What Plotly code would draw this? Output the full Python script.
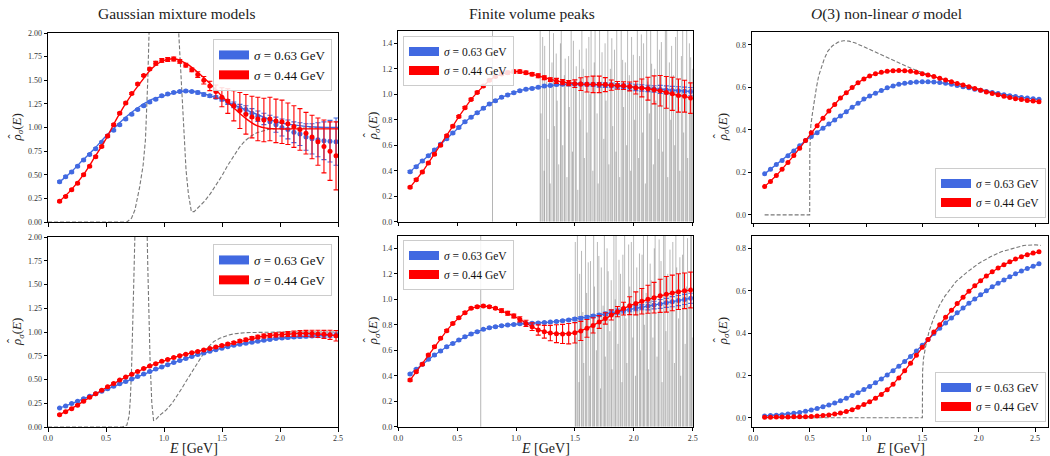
import plotly.graph_objects as go

# energy grid of the reconstructed points (GeV)
ENERGY = [
    0.100, 0.152, 0.204, 0.255, 0.307, 0.359, 0.411, 0.463,
    0.514, 0.566, 0.618, 0.670, 0.722, 0.773, 0.825, 0.877,
    0.929, 0.981, 1.032, 1.084, 1.136, 1.188, 1.240, 1.291,
    1.343, 1.395, 1.447, 1.499, 1.550, 1.602, 1.654, 1.706,
    1.758, 1.809, 1.861, 1.913, 1.965, 2.017, 2.068, 2.120,
    2.172, 2.224, 2.276, 2.327, 2.379, 2.431, 2.483, 2.535,
]
SIGMA_LABELS = ["<i>σ</i> = 0.63 GeV", "<i>σ</i> = 0.44 GeV"]

# --- Gaussian mixture models, top ---
GMM1_BLUE = [
    0.425, 0.48, 0.53, 0.59, 0.655, 0.715, 0.775, 0.845,
    0.91, 0.97, 1.03, 1.09, 1.14, 1.19, 1.23, 1.27,
    1.30, 1.335, 1.355, 1.37, 1.38, 1.385, 1.38, 1.37,
    1.35, 1.335, 1.32, 1.30, 1.27, 1.24, 1.21, 1.19,
    1.15, 1.12, 1.09, 1.06, 1.03, 1.00, 0.98, 0.95,
    0.93, 0.90, 0.88, 0.87, 0.86, 0.855, 0.85, 0.845,
]
GMM1_BLUE_ERR = [
    0.01, 0.01, 0.01, 0.01, 0.01, 0.01, 0.01, 0.01,
    0.01, 0.01, 0.01, 0.01, 0.01, 0.01, 0.01, 0.01,
    0.01, 0.01, 0.01, 0.01, 0.01, 0.01, 0.01, 0.015,
    0.015, 0.015, 0.015, 0.02, 0.025, 0.03, 0.035, 0.04,
    0.05, 0.055, 0.06, 0.07, 0.08, 0.09, 0.10, 0.11,
    0.12, 0.14, 0.16, 0.18, 0.20, 0.22, 0.25, 0.27,
]
GMM1_RED = [
    0.22, 0.27, 0.34, 0.41, 0.50, 0.59, 0.69, 0.80,
    0.91, 1.03, 1.15, 1.26, 1.36, 1.46, 1.55, 1.62,
    1.68, 1.71, 1.72, 1.725, 1.70, 1.66, 1.61, 1.56,
    1.50, 1.44, 1.38, 1.32, 1.28, 1.23, 1.18, 1.14,
    1.11, 1.09, 1.08, 1.09, 1.07, 1.06, 1.04, 1.01,
    0.98, 0.94, 0.90, 0.85, 0.80, 0.75, 0.70, 0.66,
]
GMM1_RED_ERR = [
    0.01, 0.01, 0.01, 0.01, 0.01, 0.01, 0.01, 0.01,
    0.01, 0.01, 0.01, 0.01, 0.01, 0.01, 0.01, 0.01,
    0.02, 0.02, 0.02, 0.02, 0.02, 0.02, 0.02, 0.03,
    0.04, 0.05, 0.07, 0.10, 0.13, 0.16, 0.19, 0.21,
    0.22, 0.23, 0.23, 0.23, 0.23, 0.23, 0.22, 0.22,
    0.22, 0.22, 0.23, 0.25, 0.28, 0.31, 0.36, 0.40,
]
# smeared exact curves, 0.1 GeV spacing
LINE_ENERGY = [0.1, 0.2, 0.3, 0.4, 0.5, 0.6, 0.7, 0.8, 0.9, 1.0, 1.1, 1.2, 1.3,
               1.4, 1.5, 1.6, 1.7, 1.8, 1.9, 2.0, 2.1, 2.2, 2.3, 2.4, 2.5]
GMM1_BLUE_LINE = [0.425, 0.53, 0.655, 0.775, 0.91, 1.03, 1.14, 1.23, 1.30, 1.335, 1.37, 1.385, 1.37,
                  1.335, 1.30, 1.24, 1.19, 1.14, 1.09, 1.05, 1.03, 1.015, 1.005, 1.0, 1.0]
GMM1_RED_LINE = [0.22, 0.34, 0.49, 0.68, 0.88, 1.11, 1.31, 1.48, 1.63, 1.71, 1.725, 1.67, 1.575,
                 1.46, 1.33, 1.21, 1.10, 1.02, 0.99, 0.985, 0.985, 0.985, 0.985, 0.985, 0.985]
GMM1_EXACT_E = [0.00, 0.68, 0.72, 0.75, 0.79, 0.82, 0.84, 0.86, 0.88, 0.90,
                0.95, 1.00, 1.05, 1.10, 1.127, 1.16, 1.19, 1.21, 1.236, 1.26,
                1.30, 1.35, 1.40, 1.45, 1.50, 1.55, 1.60, 1.65, 1.70, 1.75,
                1.80, 1.85, 1.90, 2.00, 2.50]
GMM1_EXACT = [0.0, 0.0, 0.04, 0.13, 0.37, 0.6, 0.87, 1.5, 2.4, 3.1,
              4.6, 5.7, 4.6, 3.1, 2.0, 1.3, 0.55, 0.3, 0.11, 0.11,
              0.16, 0.22, 0.30, 0.39, 0.49, 0.60, 0.70, 0.79, 0.86, 0.91,
              0.945, 0.965, 0.98, 0.99, 1.0]

# --- Gaussian mixture models, bottom ---
GMM2_BLUE = [
    0.20, 0.221, 0.247, 0.272, 0.298, 0.324, 0.35, 0.376,
    0.402, 0.428, 0.454, 0.48, 0.506, 0.531, 0.557, 0.584,
    0.61, 0.632, 0.656, 0.678, 0.70, 0.72, 0.741, 0.762,
    0.778, 0.798, 0.814, 0.83, 0.845, 0.86, 0.871, 0.881,
    0.892, 0.902, 0.912, 0.922, 0.931, 0.937, 0.942, 0.947,
    0.952, 0.956, 0.959, 0.961, 0.963, 0.965, 0.967, 0.968,
]
GMM2_BLUE_ERR = [
    0.006, 0.006, 0.006, 0.006, 0.006, 0.006, 0.006, 0.006,
    0.006, 0.006, 0.006, 0.006, 0.006, 0.006, 0.006, 0.006,
    0.006, 0.006, 0.006, 0.006, 0.006, 0.006, 0.006, 0.006,
    0.006, 0.006, 0.006, 0.006, 0.006, 0.006, 0.006, 0.006,
    0.006, 0.007, 0.008, 0.009, 0.01, 0.011, 0.012, 0.013,
    0.014, 0.015, 0.016, 0.017, 0.018, 0.02, 0.022, 0.024,
]
GMM2_RED = [
    0.13, 0.161, 0.193, 0.23, 0.272, 0.313, 0.35, 0.387,
    0.423, 0.459, 0.494, 0.525, 0.555, 0.585, 0.615, 0.641,
    0.667, 0.691, 0.711, 0.731, 0.751, 0.766, 0.781, 0.796,
    0.811, 0.826, 0.842, 0.857, 0.873, 0.888, 0.904, 0.919,
    0.935, 0.948, 0.958, 0.964, 0.969, 0.974, 0.978, 0.982,
    0.985, 0.985, 0.984, 0.98, 0.975, 0.97, 0.96, 0.95,
]
GMM2_RED_ERR = [
    0.006, 0.006, 0.006, 0.006, 0.006, 0.006, 0.006, 0.006,
    0.006, 0.006, 0.006, 0.006, 0.006, 0.006, 0.006, 0.006,
    0.006, 0.006, 0.006, 0.006, 0.006, 0.006, 0.006, 0.006,
    0.006, 0.006, 0.008, 0.01, 0.01, 0.012, 0.014, 0.015,
    0.016, 0.018, 0.02, 0.02, 0.022, 0.024, 0.026, 0.028,
    0.03, 0.032, 0.035, 0.038, 0.042, 0.048, 0.055, 0.065,
]
GMM2_EXACT_E = [0.00, 0.64, 0.68, 0.70, 0.71, 0.72, 0.735, 0.75, 0.77, 0.80,
                0.83, 0.845, 0.86, 0.88, 0.895, 0.91, 0.93, 0.97, 1.02, 1.07,
                1.11, 1.15, 1.20, 1.25, 1.30, 1.37, 1.43, 1.48, 1.55, 1.60,
                1.70, 2.00, 2.50]
GMM2_EXACT = [0.0, 0.0, 0.02, 0.12, 0.3, 0.6, 1.3, 2.2, 3.6, 4.6,
              3.6, 2.6, 1.7, 0.7, 0.25, 0.07, 0.08, 0.13, 0.18, 0.25,
              0.32, 0.40, 0.50, 0.60, 0.70, 0.83, 0.90, 0.934, 0.965, 0.98,
              0.993, 1.0, 1.0]

# --- Finite volume peaks, top ---
FV1_BLUE = [
    0.393, 0.432, 0.476, 0.518, 0.563, 0.607, 0.652, 0.697,
    0.74, 0.785, 0.82, 0.856, 0.89, 0.924, 0.95, 0.976,
    0.995, 1.013, 1.028, 1.04, 1.046, 1.055, 1.065, 1.07,
    1.076, 1.078, 1.08, 1.08, 1.08, 1.078, 1.076, 1.074,
    1.072, 1.07, 1.066, 1.062, 1.058, 1.054, 1.05, 1.046,
    1.042, 1.038, 1.034, 1.03, 1.027, 1.024, 1.021, 1.018,
]
FV1_BLUE_ERR = [
    0.008, 0.008, 0.008, 0.008, 0.008, 0.008, 0.008, 0.008,
    0.008, 0.008, 0.008, 0.008, 0.008, 0.008, 0.008, 0.008,
    0.008, 0.008, 0.008, 0.008, 0.008, 0.008, 0.008, 0.008,
    0.008, 0.008, 0.012, 0.012, 0.012, 0.012, 0.012, 0.018,
    0.018, 0.018, 0.018, 0.018, 0.025, 0.025, 0.025, 0.025,
    0.025, 0.032, 0.032, 0.032, 0.032, 0.032, 0.032, 0.032,
]
FV1_RED = [
    0.27, 0.33, 0.39, 0.46, 0.53, 0.60, 0.675, 0.75,
    0.825, 0.895, 0.96, 1.015, 1.065, 1.11, 1.14, 1.16,
    1.17, 1.178, 1.178, 1.17, 1.158, 1.145, 1.13, 1.115,
    1.105, 1.095, 1.088, 1.083, 1.08, 1.078, 1.078, 1.078,
    1.076, 1.072, 1.07, 1.068, 1.062, 1.052, 1.05, 1.044,
    1.035, 1.028, 1.015, 1.004, 0.99, 0.985, 0.97, 0.965,
]
FV1_RED_ERR = [
    0.008, 0.008, 0.008, 0.008, 0.008, 0.008, 0.008, 0.008,
    0.008, 0.008, 0.008, 0.008, 0.008, 0.008, 0.008, 0.012,
    0.012, 0.012, 0.012, 0.012, 0.012, 0.015, 0.015, 0.015,
    0.02, 0.02, 0.02, 0.03, 0.05, 0.06, 0.065, 0.065,
    0.055, 0.04, 0.03, 0.03, 0.035, 0.05, 0.07, 0.09,
    0.11, 0.12, 0.125, 0.13, 0.13, 0.125, 0.12, 0.12,
]
FV1_PEAK_E = [
    1.205, 1.212, 1.226, 1.238, 1.243, 1.259, 1.271, 1.284, 1.290, 1.305,
    1.318, 1.326, 1.341, 1.349, 1.362, 1.377, 1.384, 1.396, 1.410, 1.417,
    1.432, 1.446, 1.452, 1.468, 1.479, 1.487, 1.503, 1.511, 1.524, 1.538,
    1.546, 1.559, 1.571, 1.580, 1.596, 1.603, 1.618, 1.629, 1.637, 1.652,
    1.664, 1.671, 1.688, 1.697, 1.709, 1.722, 1.730, 1.745, 1.756, 1.764,
    1.779, 1.788, 1.801, 1.813, 1.821, 1.836, 1.848, 1.855, 1.871, 1.880,
    1.893, 1.905, 1.913, 1.928, 1.939, 1.947, 1.962, 1.973, 1.981, 1.996,
    2.007, 2.016, 2.030, 2.041, 2.049, 2.064, 2.075, 2.083, 2.098, 2.109,
    2.118, 2.132, 2.143, 2.151, 2.166, 2.177, 2.186, 2.200, 2.211, 2.219,
    2.234, 2.245, 2.253, 2.268, 2.279, 2.288, 2.302, 2.313, 2.321, 2.336,
    2.347, 2.355, 2.370, 2.381, 2.390, 2.404, 2.415, 2.423, 2.438, 2.449,
    2.457, 2.472, 2.483, 2.492, 2.498,
]
FV1_PEAK_H = [
    1.60, 0.85, 1.45, 0.40, 1.38, 1.10, 0.65, 1.60, 0.30, 1.25,
    1.48, 0.75, 1.32, 0.95, 0.45, 1.40, 1.60, 0.60, 1.15, 1.28,
    0.35, 1.30, 0.90, 1.60, 0.55, 1.42, 1.05, 1.22, 0.25, 1.35,
    0.80, 1.60, 1.20, 0.50, 1.36, 0.70, 1.45, 1.00, 1.60, 0.40,
    1.25, 1.52, 0.85, 0.30, 1.55, 1.10, 1.33, 0.65, 1.40, 0.95,
    1.60, 0.45, 1.20, 1.44, 0.75, 1.35, 0.55, 1.60, 1.05, 0.35,
    1.50, 1.27, 0.90, 1.25, 0.60, 1.60, 1.15, 0.40, 1.45, 1.31,
    0.80, 1.00, 1.60, 0.50, 1.30, 1.47, 0.70, 1.40, 0.30, 1.60,
    1.10, 0.85, 1.55, 1.24, 0.45, 1.20, 0.95, 1.60, 0.65, 1.35,
    1.41, 0.55, 1.05, 1.50, 1.60, 0.35, 1.25, 0.80, 1.38, 1.15,
    0.60, 1.45, 1.60, 0.90, 0.40, 1.30, 1.52, 0.70, 1.00, 1.60,
    0.50, 1.40, 1.29, 0.85, 1.20,
]

# --- Finite volume peaks, bottom ---
FV2_BLUE = [
    0.413, 0.45, 0.49, 0.529, 0.563, 0.594, 0.628, 0.654,
    0.68, 0.707, 0.728, 0.746, 0.764, 0.777, 0.785, 0.793,
    0.798, 0.803, 0.808, 0.81, 0.812, 0.814, 0.817, 0.821,
    0.826, 0.832, 0.838, 0.845, 0.852, 0.86, 0.868, 0.877,
    0.886, 0.895, 0.904, 0.913, 0.922, 0.93, 0.938, 0.947,
    0.955, 0.964, 0.972, 0.981, 0.99, 0.999, 1.008, 1.016,
]
FV2_BLUE_ERR = [
    0.007, 0.007, 0.007, 0.007, 0.007, 0.007, 0.007, 0.007,
    0.007, 0.007, 0.007, 0.007, 0.007, 0.007, 0.007, 0.007,
    0.007, 0.007, 0.007, 0.007, 0.007, 0.007, 0.007, 0.007,
    0.007, 0.007, 0.007, 0.012, 0.012, 0.012, 0.012, 0.012,
    0.012, 0.02, 0.02, 0.02, 0.02, 0.02, 0.02, 0.03,
    0.03, 0.035, 0.035, 0.04, 0.04, 0.04, 0.04, 0.04,
]
FV2_RED = [
    0.366, 0.432, 0.49, 0.563, 0.628, 0.694, 0.754, 0.811,
    0.856, 0.895, 0.929, 0.942, 0.947, 0.942, 0.929, 0.911,
    0.89, 0.869, 0.843, 0.811, 0.785, 0.759, 0.745, 0.735,
    0.73, 0.728, 0.73, 0.737, 0.752, 0.772, 0.795, 0.822,
    0.85, 0.877, 0.903, 0.927, 0.95, 0.968, 0.985, 1.0,
    1.013, 1.027, 1.039, 1.05, 1.06, 1.067, 1.073, 1.078,
]
FV2_RED_ERR = [
    0.008, 0.008, 0.008, 0.008, 0.008, 0.008, 0.008, 0.008,
    0.008, 0.008, 0.008, 0.008, 0.008, 0.008, 0.008, 0.015,
    0.015, 0.015, 0.02, 0.025, 0.03, 0.04, 0.05, 0.06,
    0.07, 0.075, 0.08, 0.08, 0.075, 0.07, 0.06, 0.05,
    0.045, 0.04, 0.04, 0.05, 0.07, 0.09, 0.10, 0.11,
    0.12, 0.13, 0.14, 0.14, 0.14, 0.14, 0.14, 0.14,
]
FV2_PEAK_E = [
    1.503, 1.509, 1.521, 1.534, 1.540, 1.556, 1.567, 1.575, 1.590, 1.599,
    1.613, 1.625, 1.632, 1.648, 1.659, 1.666, 1.682, 1.691, 1.703, 1.717,
    1.724, 1.739, 1.750, 1.758, 1.773, 1.782, 1.796, 1.808, 1.815, 1.831,
    1.842, 1.849, 1.865, 1.874, 1.887, 1.899, 1.907, 1.922, 1.933, 1.941,
    1.956, 1.965, 1.979, 1.991, 1.998, 2.014, 2.025, 2.032, 2.048, 2.057,
    2.070, 2.082, 2.090, 2.105, 2.116, 2.124, 2.139, 2.148, 2.162, 2.174,
    2.181, 2.197, 2.208, 2.215, 2.231, 2.240, 2.253, 2.265, 2.273, 2.288,
    2.299, 2.307, 2.322, 2.331, 2.345, 2.357, 2.364, 2.380, 2.391, 2.398,
    2.414, 2.423, 2.436, 2.448, 2.456, 2.471, 2.482, 2.490, 2.497,
]
FV2_PEAK_H = [
    1.45, 0.70, 1.60, 0.35, 1.20, 1.38, 0.90, 0.50, 1.55, 1.05,
    1.29, 0.40, 1.30, 0.80, 1.60, 1.10, 0.60, 1.45, 1.34, 0.30,
    1.25, 0.95, 1.60, 0.55, 1.40, 1.22, 0.75, 1.15, 0.45, 1.60,
    1.00, 1.50, 0.65, 1.31, 1.20, 0.35, 1.35, 1.60, 0.85, 0.50,
    1.43, 1.10, 1.45, 0.70, 1.60, 0.40, 1.25, 0.95, 1.36, 0.60,
    1.35, 1.60, 0.80, 1.05, 1.55, 0.45, 1.28, 1.15, 0.70, 1.40,
    1.60, 0.55, 0.90, 1.47, 1.30, 0.35, 1.50, 1.60, 0.75, 1.20,
    0.60, 1.39, 1.00, 1.45, 0.50, 1.60, 1.25, 0.85, 1.33, 0.40,
    1.35, 1.60, 0.65, 1.10, 1.48, 0.95, 1.50, 1.60, 0.70,
]
FV_GROUND_STATE = [0.8, 0.7]  # thin grey marker line, top / bottom

# --- O(3) non-linear sigma model ---
O3A_BLUE = [
    0.193, 0.215, 0.237, 0.256, 0.278, 0.301, 0.325, 0.35,
    0.369, 0.387, 0.408, 0.428, 0.447, 0.466, 0.486, 0.507,
    0.525, 0.546, 0.56, 0.573, 0.585, 0.598, 0.607, 0.615,
    0.62, 0.623, 0.626, 0.627, 0.627, 0.626, 0.623, 0.62,
    0.615, 0.609, 0.603, 0.598, 0.592, 0.587, 0.581, 0.576,
    0.571, 0.566, 0.561, 0.557, 0.553, 0.55, 0.547, 0.544,
]
O3A_RED = [
    0.133, 0.157, 0.185, 0.215, 0.246, 0.279, 0.314, 0.35,
    0.387, 0.419, 0.455, 0.489, 0.52, 0.55, 0.575, 0.60,
    0.622, 0.64, 0.654, 0.664, 0.671, 0.676, 0.679, 0.68,
    0.679, 0.676, 0.671, 0.665, 0.658, 0.651, 0.643, 0.635,
    0.627, 0.619, 0.611, 0.603, 0.595, 0.587, 0.579, 0.572,
    0.565, 0.558, 0.552, 0.547, 0.543, 0.539, 0.536, 0.533,
]
O3A_EXACT_E = [0.10, 0.50, 0.501, 0.51, 0.525, 0.54, 0.56, 0.58, 0.60, 0.63,
               0.66, 0.70, 0.75, 0.80, 0.85, 0.90, 1.00, 1.10, 1.20, 1.30,
               1.40, 1.50, 1.60, 1.80, 2.00, 2.20, 2.40, 2.55]
O3A_EXACT = [0.0, 0.0, 0.30, 0.42, 0.48, 0.54, 0.60, 0.655, 0.69, 0.735,
             0.77, 0.795, 0.813, 0.82, 0.818, 0.81, 0.787, 0.763, 0.738, 0.713,
             0.69, 0.67, 0.652, 0.62, 0.593, 0.57, 0.552, 0.54]
O3B_BLUE = [
    0.008, 0.010, 0.012, 0.014, 0.017, 0.021, 0.025, 0.030,
    0.036, 0.043, 0.052, 0.060, 0.069, 0.080, 0.092, 0.105,
    0.118, 0.133, 0.148, 0.165, 0.183, 0.202, 0.222, 0.243,
    0.266, 0.290, 0.316, 0.343, 0.370, 0.398, 0.423, 0.448,
    0.472, 0.496, 0.519, 0.541, 0.562, 0.582, 0.601, 0.619,
    0.636, 0.652, 0.667, 0.681, 0.694, 0.706, 0.717, 0.728,
]
O3B_RED = [
    0.002, 0.002, 0.003, 0.003, 0.003, 0.004, 0.004, 0.005,
    0.006, 0.008, 0.010, 0.013, 0.017, 0.022, 0.029, 0.038,
    0.049, 0.062, 0.076, 0.092, 0.110, 0.132, 0.158, 0.188,
    0.222, 0.258, 0.295, 0.333, 0.370, 0.405, 0.440, 0.475,
    0.508, 0.540, 0.570, 0.598, 0.624, 0.648, 0.670, 0.690,
    0.708, 0.724, 0.738, 0.751, 0.762, 0.771, 0.779, 0.785,
]
O3B_EXACT_E = [0.10, 1.50, 1.502, 1.51, 1.53, 1.56, 1.60, 1.65, 1.70,
               1.80, 1.90, 2.00, 2.10, 2.20, 2.30, 2.40, 2.50, 2.55]
O3B_EXACT = [0.0, 0.0, 0.22, 0.28, 0.34, 0.41, 0.47, 0.53, 0.575,
             0.645, 0.69, 0.73, 0.76, 0.785, 0.80, 0.815, 0.818, 0.815]

W, H = 1050, 456
SERIF = "Liberation Serif"
BLUE = "royalblue"
RED = "red"
COLORS = [BLUE, RED]
GREY = "rgba(105,105,105,0.9)"

# panel boxes in pixels: left, right, top, bottom  (row-major, 1..6)
BOXES = [
    (48, 338, 33, 222), (398.3, 692.7, 30.6, 221.7), (752, 1048, 32, 222.5),
    (48, 338, 237, 427), (398.3, 692.7, 235.6, 426.7), (752, 1048, 235.5, 427),
]
YRANGES = [[0, 2.0], [0, 1.5], [-0.036, 0.861], [0, 2.0], [0, 1.5], [-0.044, 0.862]]
YTICKS = [(0.25, ".2f"), (0.2, ".1f"), (0.2, ".1f")] * 2
XRANGES = [[0, 2.5], [0, 2.5], [-0.012, 2.615]] * 2

fig = go.Figure()


def ax(i):
    s = "" if i == 1 else str(i)
    return "x" + s, "y" + s


def add_exact(i, e, rho):
    xa, ya = ax(i)
    fig.add_trace(go.Scatter(x=e, y=rho, mode="lines", xaxis=xa, yaxis=ya, showlegend=False,
                             line=dict(color=GREY, width=1.1, dash="4px,2px"), hoverinfo="skip"))


def add_peaks(i, pos, heights):
    xa, ya = ax(i)
    xs, ys = [], []
    for p, h in zip(pos, heights):
        xs += [p, p, None]
        ys += [0, h, None]
    fig.add_trace(go.Scatter(x=xs, y=ys, mode="lines", xaxis=xa, yaxis=ya, showlegend=False,
                             line=dict(color="rgba(90,90,90,0.42)", width=1), hoverinfo="skip"))


def add_points(i, y, err, color, line=True):
    xa, ya = ax(i)
    kw = {}
    if err is not None:
        kw["error_y"] = dict(type="data", array=err, color=color, thickness=1.1, width=2.5)
    fig.add_trace(go.Scatter(x=ENERGY, y=y, mode="lines+markers" if line else "markers",
                             xaxis=xa, yaxis=ya, showlegend=False,
                             marker=dict(size=5, color=color), line=dict(color=color, width=1.3), **kw))


def add_line(i, e, y, color):
    xa, ya = ax(i)
    fig.add_trace(go.Scatter(x=e, y=y, mode="lines", xaxis=xa, yaxis=ya, showlegend=False,
                             line=dict(color=color, width=1.4, shape="spline")))


def add_legend(i):
    xa, ya = ax(i)
    for name, color in zip(SIGMA_LABELS, COLORS):
        fig.add_trace(go.Scatter(x=[None], y=[None], mode="lines", name=name, xaxis=xa, yaxis=ya,
                                 line=dict(color=color, width=9),
                                 legend="legend" if i == 1 else f"legend{i}"))


# Gaussian mixture models
add_exact(1, GMM1_EXACT_E, GMM1_EXACT)
add_line(1, LINE_ENERGY, GMM1_BLUE_LINE, BLUE)
add_points(1, GMM1_BLUE, GMM1_BLUE_ERR, BLUE, line=False)
add_line(1, LINE_ENERGY, GMM1_RED_LINE, RED)
add_points(1, GMM1_RED, GMM1_RED_ERR, RED, line=False)
add_exact(4, GMM2_EXACT_E, GMM2_EXACT)
add_points(4, GMM2_BLUE, GMM2_BLUE_ERR, BLUE)
add_points(4, GMM2_RED, GMM2_RED_ERR, RED)

# finite volume peaks
add_peaks(2, FV1_PEAK_E, FV1_PEAK_H)
add_points(2, FV1_BLUE, FV1_BLUE_ERR, BLUE)
add_points(2, FV1_RED, FV1_RED_ERR, RED)
add_peaks(5, FV2_PEAK_E, FV2_PEAK_H)
add_points(5, FV2_BLUE, FV2_BLUE_ERR, BLUE)
add_points(5, FV2_RED, FV2_RED_ERR, RED)

# O(3) model
add_exact(3, O3A_EXACT_E, O3A_EXACT)
add_points(3, O3A_BLUE, None, BLUE)
add_points(3, O3A_RED, None, RED)
add_exact(6, O3B_EXACT_E, O3B_EXACT)
add_points(6, O3B_BLUE, None, BLUE)
add_points(6, O3B_RED, None, RED)

for i in range(1, 7):
    add_legend(i)

for i, e0 in zip([2, 5], FV_GROUND_STATE):
    xa, ya = ax(i)
    fig.add_shape(type="line", xref=xa, yref=ya + " domain", x0=e0, x1=e0, y0=0, y1=1,
                  line=dict(color="rgba(150,150,150,0.7)", width=1), layer="below")

layout = dict(width=W, height=H, margin=dict(l=0, r=0, t=0, b=0, autoexpand=False),
              paper_bgcolor="white", plot_bgcolor="white",
              font=dict(family=SERIF, color="black"))
base_axis = dict(showline=True, linecolor="black", linewidth=1, mirror=True, ticks="outside",
                 ticklen=3.5, tickwidth=0.8, tickcolor="black", showgrid=False, zeroline=False,
                 automargin=False, tickfont=dict(family=SERIF, size=8, color="#333"))
for i, (l, r, t, b) in enumerate(BOXES, start=1):
    s = "" if i == 1 else str(i)
    dt, fmt = YTICKS[i - 1]
    layout["xaxis" + s] = dict(base_axis, domain=[l / W, r / W], anchor="y" + s,
                               range=XRANGES[i - 1], dtick=0.5, tick0=0, tickformat=".1f",
                               showticklabels=i > 3)
    layout["yaxis" + s] = dict(base_axis, domain=[1 - b / H, 1 - t / H], anchor="x" + s,
                               range=YRANGES[i - 1], dtick=dt, tick0=0, tickformat=fmt)

# legend anchor points (pixels) per panel
LEGEND_POS = [
    (332, 39, "right", "top", 13), (403, 36, "left", "top", 11.5), (1046, 218, "right", "bottom", 11.5),
    (332, 244, "right", "top", 13), (403, 240, "left", "top", 11.5), (1046, 422, "right", "bottom", 11.5),
]
for i, (lx, ly, xa, ya, fs) in enumerate(LEGEND_POS, start=1):
    layout["legend" if i == 1 else f"legend{i}"] = dict(
        x=lx / W, y=1 - ly / H, xanchor=xa, yanchor=ya, bgcolor="rgba(255,255,255,0.85)",
        bordercolor="#cccccc", borderwidth=1, font=dict(family=SERIF, size=fs, color="#111"),
        tracegroupgap=0, itemwidth=30)

annotations = []
TITLES = [("Gaussian mixture models", 177), ("Finite volume peaks", 531.7),
          ("<i>O</i>(3) non-linear <i>σ</i> model", 886.7)]
for text, cx in TITLES:
    annotations.append(dict(text=text, x=cx / W, y=1 - 14 / H, xref="paper", yref="paper",
                            showarrow=False, font=dict(size=15.5, family=SERIF, color="#222"),
                            xanchor="center", yanchor="middle"))
for i, (l, r, t, b) in enumerate(BOXES, start=1):
    ylab_x = {1: 17, 2: 373, 3: 723}[(i - 1) % 3 + 1]
    yc = (t + b) / 2
    annotations.append(dict(text="<i>ρ</i><sub><i>σ</i></sub>(<i>E</i>)", x=ylab_x / W,
                            y=1 - yc / H, xref="paper", yref="paper", textangle=-90,
                            showarrow=False, font=dict(size=13, family=SERIF, color="#222"),
                            xanchor="center", yanchor="middle"))
    # the hat over rho
    annotations.append(dict(text="ˆ", x=(ylab_x - 5) / W, y=1 - (yc + 9) / H,
                            xref="paper", yref="paper", textangle=-90, showarrow=False,
                            font=dict(size=12, family=SERIF, color="#222"),
                            xanchor="center", yanchor="middle"))
    if i > 3:
        annotations.append(dict(text="<i>E</i> [GeV]", x=(l + r) / 2 / W, y=1 - 448 / H,
                                xref="paper", yref="paper", showarrow=False,
                                font=dict(size=14, family=SERIF, color="#222"),
                                xanchor="center", yanchor="middle"))
layout["annotations"] = annotations

fig.update_layout(**layout)
# drop the browser's default page margin so the figure sits at the window origin
fig.write_html("out.html", config={"displayModeBar": False},
               post_script="document.body.style.margin='0px';")
